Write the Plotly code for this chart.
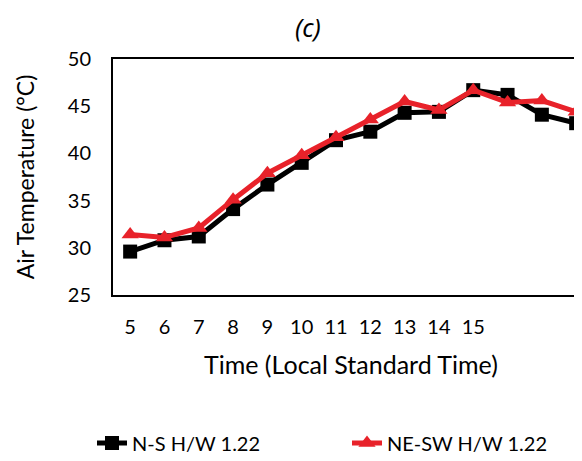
import plotly.graph_objects as go

hours = [5, 6, 7, 8, 9, 10, 11, 12, 13, 14, 15, 16, 17, 18]
tick_vals = [5, 6, 7, 8, 9, 10, 11, 12, 13, 14, 15]
tick_text = ["5", "6", "7", "8", "9", "10", "11", "12", "13", "14", "15"]
ns_temp = [29.6, 30.8, 31.2, 34.1, 36.7, 39.0, 41.4, 42.3, 44.3, 44.4, 46.7, 46.2, 44.1, 43.2]
nesw_temp = [31.4, 31.1, 32.1, 35.1, 37.9, 39.8, 41.7, 43.6, 45.5, 44.6, 46.7, 45.4, 45.6, 44.4]
y_ticks = [25, 30, 35, 40, 45, 50]

FONT = "Lato"
# page has an 8px body margin; figure sits at (8, 8)
W, H = 574, 453
L, T, B = 105, 51, 166
PW = W - L
PH = H - T - B


def px_x(page_x):
    return (page_x - 8 - L) / PW


def px_y(page_y):
    return 1 - (page_y - 8 - T) / PH


fig = go.Figure()
fig.add_trace(go.Scatter(
    x=hours, y=ns_temp, name="N-S H/W 1.22", mode="lines+markers",
    line=dict(color="black", width=5),
    marker=dict(symbol="square", size=14, color="black"),
))
fig.add_trace(go.Scatter(
    x=hours, y=nesw_temp, name="NE-SW H/W 1.22", mode="lines+markers",
    line=dict(color="#e8222a", width=5),
    marker=dict(symbol="triangle-up", size=15, color="#e8222a"),
))

fig.update_layout(
    width=W, height=H,
    margin=dict(l=L, r=0, t=T, b=B, autoexpand=False),
    paper_bgcolor="white", plot_bgcolor="white",
    font=dict(family=FONT, size=20, color="black"),
    showlegend=True,
    legend=dict(orientation="h", x=px_x(92), xanchor="left", y=px_y(443), yanchor="middle",
                entrywidth=210, entrywidthmode="pixels",
                font=dict(family=FONT, size=20, color="black")),
    xaxis=dict(
        range=[4.5, 18.17], tickmode="array", tickvals=tick_vals, ticktext=tick_text,
        showgrid=False, zeroline=False, showline=True, linecolor="black", linewidth=2,
        mirror=True, ticks="", ticklabelstandoff=13,
        tickfont=dict(family=FONT, size=20),
    ),
    yaxis=dict(
        range=[25, 50], tickmode="array", tickvals=y_ticks,
        showgrid=False, zeroline=False, showline=True, linecolor="black", linewidth=2,
        mirror=False, ticks="", ticklabelstandoff=16,
        title=dict(text="Air Temperature (°C)", font=dict(family=FONT, size=23), standoff=27),
        tickfont=dict(family=FONT, size=20),
    ),
)

fig.add_annotation(
    text="<i>(c)</i>", xref="paper", yref="paper",
    x=px_x(308), y=px_y(27), xanchor="center", yanchor="middle",
    showarrow=False, font=dict(family="Noto Sans", size=25, color="black"),
)

fig.add_annotation(
    text="Time (Local Standard Time)", xref="paper", yref="paper",
    x=px_x(351), y=px_y(364), xanchor="center", yanchor="middle",
    showarrow=False, font=dict(family=FONT, size=25, color="black"),
)

fig.write_html("out.html")
